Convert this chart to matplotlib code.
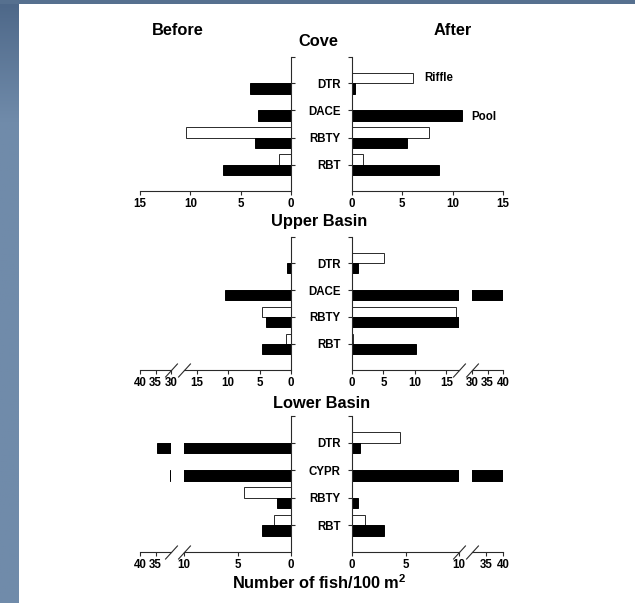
import matplotlib
matplotlib.use('Agg')
from matplotlib import pyplot as plt
from matplotlib.patches import Rectangle
import numpy as np

plt.rcParams['font.family'] = 'Liberation Sans'
plt.rcParams['font.weight'] = 'bold'
plt.rcParams['mathtext.fontset'] = 'custom'
plt.rcParams['mathtext.bf'] = 'Liberation Sans:bold'
plt.rcParams['mathtext.rm'] = 'Liberation Sans:bold'

# fish density, number of fish/100 m^2, species listed top to bottom
cove_species = ['DTR', 'DACE', 'RBTY', 'RBT']
cove_before_riffle = [0, 0, 10.4, 1.2]
cove_before_pool = [4.1, 3.3, 3.6, 6.8]
cove_after_riffle = [6.1, 0, 7.6, 1.05]
cove_after_pool = [0.25, 10.95, 5.5, 8.6]

upper_species = ['DTR', 'DACE', 'RBTY', 'RBT']
upper_before_riffle = [0, 0, 4.6, 0.8]
upper_before_pool = [0.65, 10.5, 4.0, 4.6]
upper_after_riffle = [5.1, 0, 16.6, 0.2]
upper_after_pool = [1.0, 40, 17.5, 10.1]

lower_species = ['DTR', 'CYPR', 'RBTY', 'RBT']
lower_before_riffle = [0, 0, 4.4, 1.55]
lower_before_pool = [34.6, 30.4, 1.3, 2.7]
lower_after_riffle = [4.5, 0, 0, 1.2]
lower_after_pool = [0.75, 40, 0.55, 3.0]

# x ticks: near part of the axis, and the part past the break
cove_ticks = [0, 5, 10, 15]
upper_ticks = [0, 5, 10, 15]
upper_ticks_far = [30, 35, 40]
lower_ticks = [0, 5, 10]
lower_ticks_far = [35, 40]

W, H = 635, 603
fig = plt.figure(figsize=(W / 100, H / 100), dpi=100)

# slide frame: gradient strip on the left, thin band on top
bg = fig.add_axes([0, 0, 19 / W, 1])
rows = np.linspace(0, 1, 300)
top_c = np.array([0x4d, 0x67, 0x88]) / 255
mid_c = np.array([0x70, 0x8b, 0xaa]) / 255
t = np.clip(rows / 0.2, 0, 1)[:, None]
grad = top_c * (1 - t) + mid_c * t
bg.imshow(grad[:, None, :], aspect='auto', extent=[0, 1, 1, 0])
bg.axis('off')
fig.add_artist(Rectangle((0, 1 - 4 / H), 1, 4 / H, transform=fig.transFigure,
                         color='#56708f', lw=0))

BAR_H = 0.38
YLIM = (3.97, -0.97)
EDGE = '#2a2a2a'


def px_box(x0, x1, y0, y1):
    return [x0 / W, 1 - y1 / H, (x1 - x0) / W, (y1 - y0) / H]


def bars(ax, riffle, pool):
    pos = np.arange(len(riffle))
    ax.barh(pos - BAR_H / 2, riffle, height=BAR_H, color='white',
            edgecolor=EDGE, linewidth=0.7)
    ax.barh(pos + BAR_H / 2, pool, height=BAR_H, color='black',
            edgecolor='black', linewidth=0.7)
    ax.set_ylim(*YLIM)


def axis_style(ax, ticks, keep):
    for s in ['top', 'left', 'right', 'bottom']:
        ax.spines[s].set_visible(s in keep)
        ax.spines[s].set_color(EDGE)
        ax.spines[s].set_linewidth(0.8)
    ax.set_xticks(ticks)
    ax.tick_params(axis='x', direction='out', length=2.6, width=0.8,
                   pad=2.5, labelsize=8.3, color=EDGE)
    ax.tick_params(axis='y', direction='out', length=2.6, width=0.8,
                   pad=5.5, labelsize=8.3, color=EDGE)


def slash(ax, x):
    ax.plot([x], [0], transform=ax.transAxes, marker=[(-1, -1.1), (1, 1.1)],
            markersize=10, linestyle='none', color=EDGE, mec=EDGE, mew=0.8,
            clip_on=False)


def panel(side, y0, y1, main_px, lim, ticks, species, riffle, pool,
          far_px=None, far_lim=None, far_ticks=None):
    ax = fig.add_axes(px_box(main_px[0], main_px[1], y0, y1))
    bars(ax, riffle, pool)
    spine = 'right' if side == 'before' else 'left'
    axis_style(ax, ticks, ['bottom', spine])
    ax.set_yticks([YLIM[1]] + list(range(len(species))))
    if side == 'before':
        ax.set_xlim(lim, 0)
        ax.yaxis.tick_right()
        ax.set_yticklabels([''] * (len(species) + 1))
    else:
        ax.set_xlim(0, lim)
        ax.set_yticklabels([''] + species)
    if far_px is None:
        return ax
    far = fig.add_axes(px_box(far_px[0], far_px[1], y0, y1))
    bars(far, riffle, pool)
    axis_style(far, far_ticks, ['bottom'])
    far.set_yticks([])
    if side == 'before':
        far.set_xlim(far_lim[1], far_lim[0])
        slash(ax, 0)
        slash(far, 1)
    else:
        far.set_xlim(*far_lim)
        slash(ax, 1)
        slash(far, 0)
    return ax


# Cove
panel('before', 57, 191, (140, 291), 15, cove_ticks, cove_species,
      cove_before_riffle, cove_before_pool)
cove_after = panel('after', 57, 191, (352, 503), 15, cove_ticks, cove_species,
                   cove_after_riffle, cove_after_pool)
cove_after.text(7.15, -BAR_H / 2, 'Riffle', fontsize=8.3, va='center')
cove_after.text(11.8, 1 + BAR_H / 2 + 0.05, 'Pool', fontsize=8.3, va='center')

# Upper Basin
panel('before', 237, 370, (184, 291), 17, upper_ticks, upper_species,
      upper_before_riffle, upper_before_pool,
      (140, 171), (30, 40), upper_ticks_far)
panel('after', 237, 370, (352, 459), 17, upper_ticks, upper_species,
      upper_after_riffle, upper_after_pool,
      (472, 503), (30, 40), upper_ticks_far)

# Lower Basin
panel('before', 416, 552, (184, 291), 10, lower_ticks, lower_species,
      lower_before_riffle, lower_before_pool,
      (140, 171), (30, 40), lower_ticks_far)
panel('after', 416, 552, (352, 459), 10, lower_ticks, lower_species,
      lower_after_riffle, lower_after_pool,
      (472, 503), (31, 40), lower_ticks_far)

big = dict(fontsize=11.8, ha='center', va='baseline')
fig.text(178 / W, 1 - 35 / H, 'Before', **big)
fig.text(453 / W, 1 - 35 / H, 'After', **big)
fig.text(318 / W, 1 - 46.5 / H, 'Cove', **big)
fig.text(319.5 / W, 1 - 226 / H, 'Upper Basin', **big)
fig.text(322 / W, 1 - 408 / H, 'Lower Basin', **big)
fig.text(319 / W, 1 - 589 / H, r'Number of fish/100 m$^{\mathbf{2}}$', **big)

fig.savefig('out.png', dpi=100)
